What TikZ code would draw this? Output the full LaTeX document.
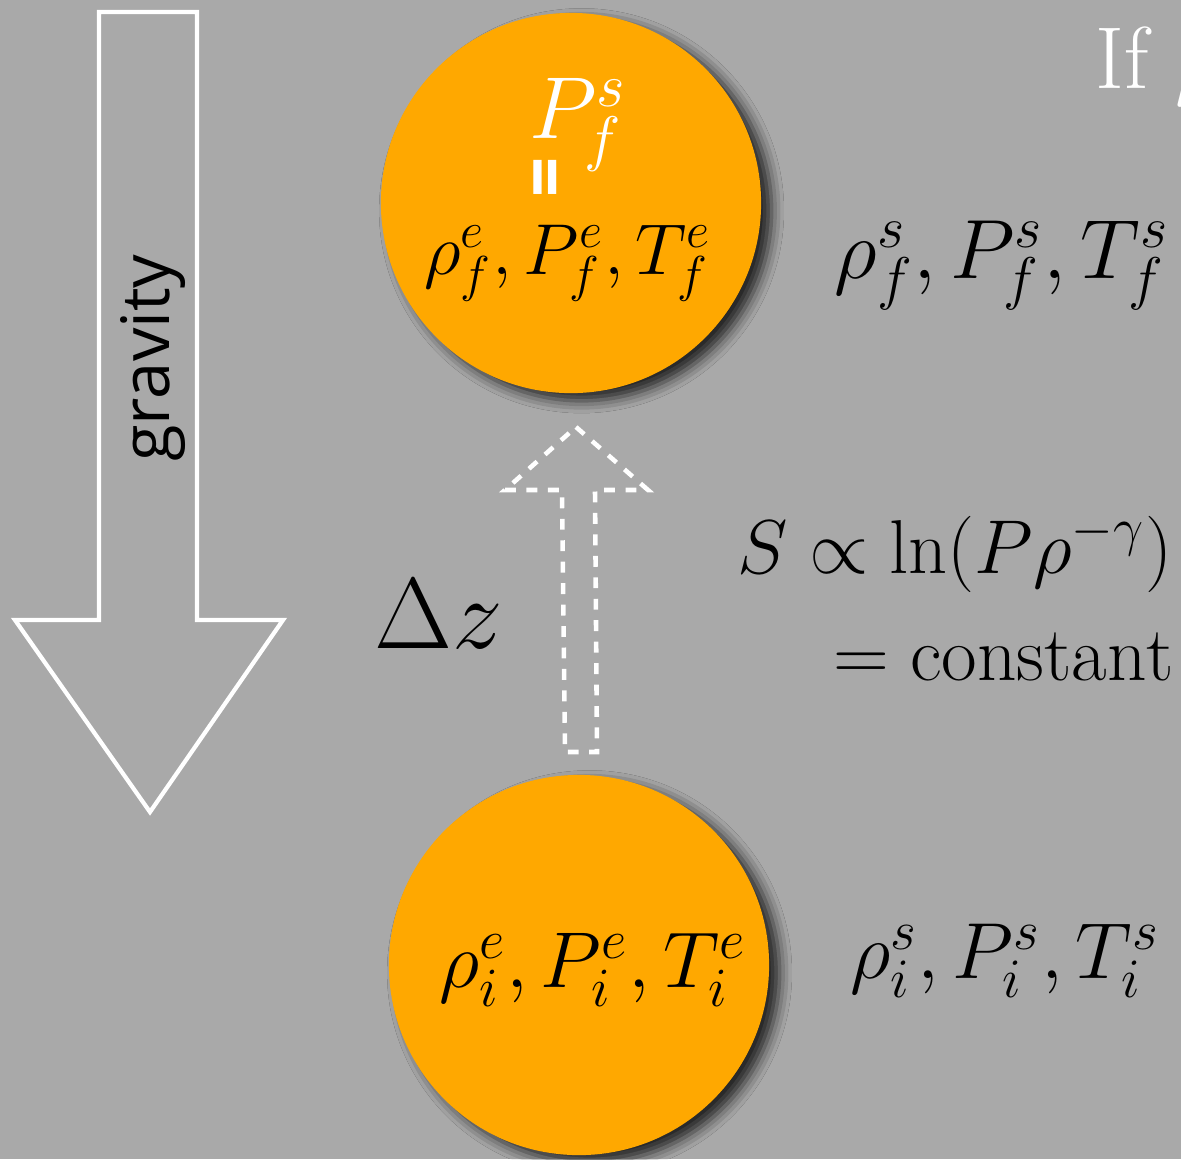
\RequirePackage{fix-cm}
\documentclass[tikz,border=0pt]{standalone}
\usepackage{fontspec}
\newfontfamily\gravfont{Open Sans}
\usetikzlibrary{shadows.blur}
\definecolor{bgc}{RGB}{169,169,169}
\definecolor{ballc}{RGB}{255,168,0}
\newcommand\myfs[1]{\fontsize{#1}{#1}\selectfont}
\tikzset{
  ball/.style={circle, fill=ballc, minimum size=3.8cm, inner sep=0pt,
    blur shadow={shadow xshift=3pt, shadow yshift=-2.2pt, shadow blur radius=3.5pt, shadow opacity=80}},
  bigarrow/.style={draw=white, line width=1.2pt, line join=miter},
  dasharrow/.style={draw=white, line width=1.3pt, dash pattern=on 3.1pt off 3pt, line join=miter},
  lbl/.style={inner sep=0pt, anchor=base}
}
\begin{document}
\begin{tikzpicture}[x=0.01cm,y=-0.01cm]
\useasboundingbox (0,0) rectangle (1181,1159);
\fill[bgc] (0,0) rectangle (1181,1159);
\clip (0,0) rectangle (1181,1159);

% gravity arrow
\draw[bigarrow] (99,12) -- (197,12) -- (197,620) -- (283,620) -- (150,812) -- (15,620) -- (99,620) -- cycle;
\node[inner sep=0pt, rotate=90] (grav) at (153,358) {\gravfont\myfs{19}gravity};

% balls
\node[ball] (top) at (571,203) {};
\node[ball] (bot) at (579,965) {};

% dashed up arrow
\draw[dasharrow] (576,427) -- (648,490) -- (595,490) -- (597,752) -- (565,752) -- (562,490) -- (505,490) -- cycle;

% top ball texts
\node[lbl, text=white] (psf) at (578,138) {\myfs{25}$P^s_f$};
\node[inner sep=0pt, rotate=90, yscale=1.1, text=white] (eq) at (553,177) {\gravfont\bfseries\myfs{20}=};
\node[lbl] (ef) at (568,274) {\myfs{20.5}$\rho^e_f, P^e_f, T^e_f$};

% bottom ball text
\node[lbl] (ei) at (593,987) {\myfs{22.5}$\rho^e_i, P^e_i, T^e_i$};

% right texts
\node[lbl] (sf) at (1002,278) {\myfs{23.9}$\rho^s_f, P^s_f, T^s_f$};
\node[lbl] (si) at (1005,978) {\myfs{22.6}$\rho^s_i, P^s_i, T^s_i$};
\node[inner sep=0pt, anchor=base east] (ent) at (1173,573) {\myfs{21.7}$S \propto \ln(P\rho^{-\gamma})$};
\node[inner sep=0pt, anchor=base east] (cst) at (1175,680) {\myfs{22}$= \mathrm{constant}$};

% delta z
\node[lbl] (dz) at (439,648) {\myfs{28.7}$\Delta z$};

% cut-off heading
\node[inner sep=0pt, anchor=base west, text=white] (ifx) at (1095,88) {\myfs{25}If $\rho$};
\end{tikzpicture}
\end{document}
